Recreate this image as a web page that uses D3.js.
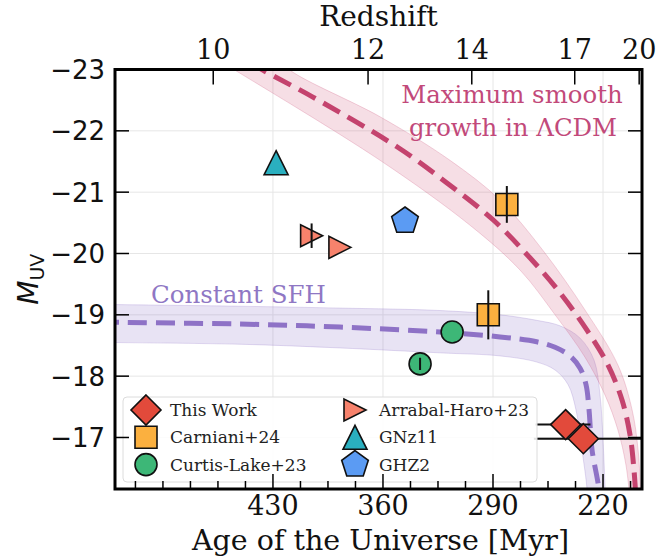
<!DOCTYPE html>
<html>
<head>
<meta charset="utf-8">
<script src="https://cdn.jsdelivr.net/npm/d3@7"></script>
<style>
  html, body { margin: 0; padding: 0; background: #fff; }
  svg { display: block; }
</style>
</head>
<body>
<div id="chart"></div>
<script>
// ---- data ----
const ageTicks = [430, 360, 290, 220];
const yTicks = [-23, -22, -21, -20, -19, -18, -17];
const zTicks = [10, 12, 14, 17, 20];
const zTickAge = [468, 369.5, 303.5, 238, 197]; // age [Myr] at each redshift tick

// maximum smooth growth in LCDM: mean curve + band edges, [age, M_UV]
const lcdmMean = [[444.6, -23.12], [436.4, -22.99], [404.6, -22.55], [351.1, -21.74], [319.3, -21.15],
  [290.0, -20.55], [266.5, -19.93], [247.4, -19.36], [230.2, -18.75], [216.8, -18.18], [207.9, -17.61],
  [202.8, -17.04], [200.3, -16.47], [199.0, -15.98]];
const lcdmUpper = [[428.7, -23.24], [419.2, -22.99], [361.9, -22.23], [317.4, -21.52], [285.5, -20.87],
  [258.2, -20.05], [231.5, -19.08], [210.5, -18.18], [201.5, -17.45], [197.7, -16.8], [195.8, -15.98]];
const lcdmLower = [[462.5, -23.12], [454.2, -22.99], [361.9, -21.52], [304.6, -20.46], [272.8, -19.73],
  [250.5, -19.0], [231.5, -18.31], [218.7, -17.69], [210.5, -17.12], [205.4, -16.55], [202.8, -15.98]];

// constant SFH: mean curve + band edges
const sfhMean = [[540, -18.89], [530.5, -18.88], [451, -18.85], [387.4, -18.8], [323.7, -18.72],
  [285.5, -18.64], [262.2, -18.56], [250.5, -18.47], [241.0, -18.33], [234.6, -18.13], [230.8, -17.86],
  [228.9, -17.45], [227.0, -16.8], [223.2, -16.26], [221.9, -15.98]];
const sfhUpper = [[540, -19.17], [451, -19.14], [387.4, -19.11], [323.7, -19.07], [285.5, -19.0],
  [262.2, -18.91], [247.3, -18.82], [234.6, -18.62], [225.7, -18.26], [221.9, -17.69], [220.0, -16.96],
  [218.7, -16.16], [218.5, -15.9]];
const sfhLower = [[540, -18.55], [451, -18.52], [387.4, -18.46], [323.7, -18.38], [285.5, -18.33],
  [262.2, -18.23], [250.5, -18.1], [242.2, -17.86], [237.2, -17.45], [233.4, -16.8], [230.2, -16.16],
  [230, -15.9]];

// observed galaxies
const thisWorkAge = [243.8, 232.5];
const thisWorkM = [-17.21, -16.98];
const thisWorkAgeLo = [263, 264];
const thisWorkAgeHi = [228, 180];

const carnianiAge = [281.2, 293];
const carnianiM = [-20.8, -19.0];
const carnianiErr = [0.3, 0.4];

const curtisAge = [316, 336.4];
const curtisM = [-18.72, -18.2];
const curtisErr = [0, 0.1];

const arrabalAge = [405.4, 387.4];
const arrabalM = [-20.29, -20.1];
const arrabalErr = [0.2, 0];

const gnz11Age = [428];
const gnz11M = [-21.48];
const ghz2Age = [346];
const ghz2M = [-20.53];

const legendLabels = ["This Work", "Carniani+24", "Curtis-Lake+23", "Arrabal-Haro+23", "GNz11", "GHZ2"];

// ---- layout ----
const W = 660, H = 558;
const pLeft = 115, pRight = 642, pTop = 69.5, pBottom = 489;

const x = d3.scaleLinear().domain([530.5, 195.2]).range([pLeft, pRight]);
const y = d3.scaleLinear().domain([-23, -16.16]).range([pTop, pBottom]);

const serif = "DejaVu Serif";
const sans = "DejaVu Sans";

const svg = d3.select("#chart").append("svg").attr("width", W).attr("height", H);

svg.append("clipPath").attr("id", "clip")
  .append("rect").attr("x", pLeft).attr("y", pTop).attr("width", pRight - pLeft).attr("height", pBottom - pTop);

// grid
const grid = svg.append("g").attr("stroke", "#e6e6e6").attr("stroke-width", 1);
grid.selectAll("line.gx").data(ageTicks).join("line").attr("class", "gx")
  .attr("x1", d => x(d)).attr("x2", d => x(d)).attr("y1", pTop).attr("y2", pBottom);
grid.selectAll("line.gy").data(yTicks).join("line").attr("class", "gy")
  .attr("y1", d => y(d)).attr("y2", d => y(d)).attr("x1", pLeft).attr("x2", pRight);

// curves
const plot = svg.append("g").attr("clip-path", "url(#clip)");
const line = d3.line().x(d => x(d[0])).y(d => y(d[1])).curve(d3.curveCatmullRom);

function band(upper, lower) {
  return line(upper) + line(lower.slice().reverse()).replace(/^M/, "L") + "Z";
}

plot.append("path").attr("d", band(sfhUpper, sfhLower))
  .attr("fill", "#8e72c6").attr("fill-opacity", 0.2)
  .attr("stroke", "#8e72c6").attr("stroke-opacity", 0.25).attr("stroke-width", 1);
plot.append("path").attr("d", band(lcdmUpper, lcdmLower))
  .attr("fill", "#d0587e").attr("fill-opacity", 0.2)
  .attr("stroke", "#d0587e").attr("stroke-opacity", 0.25).attr("stroke-width", 1);

plot.append("path").attr("d", line(sfhMean)).attr("fill", "none")
  .attr("stroke", "#8e72c6").attr("stroke-width", 5).attr("stroke-dasharray", "19,9");
plot.append("path").attr("d", line(lcdmMean)).attr("fill", "none")
  .attr("stroke", "#c4436e").attr("stroke-width", 5).attr("stroke-dasharray", "19,9");

// curve annotations
svg.append("text").attr("x", 512).attr("y", 103).attr("text-anchor", "middle")
  .attr("font-family", serif).attr("font-size", 24.4).attr("fill", "#c2497a").text("Maximum smooth");
svg.append("text").attr("x", 513).attr("y", 136).attr("text-anchor", "middle")
  .attr("font-family", serif).attr("font-size", 24.4).attr("fill", "#c2497a").text("growth in \u039BCDM");
svg.append("text").attr("x", 151).attr("y", 303)
  .attr("font-family", serif).attr("font-size", 24.5).attr("fill", "#8f77c4").text("Constant SFH");

// marker shapes (r = half size in px)
const shapes = {
  diamond: { draw(c, r) { c.moveTo(0, -r); c.lineTo(r, 0); c.lineTo(0, r); c.lineTo(-r, 0); c.closePath(); } },
  square: { draw(c, r) { c.rect(-r, -r, 2 * r, 2 * r); } },
  circle: { draw(c, r) { c.moveTo(r, 0); c.arc(0, 0, r, 0, 2 * Math.PI); } },
  triRight: { draw(c, r) { c.moveTo(r, 0); c.lineTo(-r, -r); c.lineTo(-r, r); c.closePath(); } },
  triUp: { draw(c, r) { c.moveTo(0, -r); c.lineTo(r, r); c.lineTo(-r, r); c.closePath(); } },
  pentagon: { draw(c, r) {
    for (let i = 0; i < 5; i++) {
      const a = -Math.PI / 2 + i * 2 * Math.PI / 5;
      i ? c.lineTo(r * Math.cos(a), r * Math.sin(a)) : c.moveTo(r * Math.cos(a), r * Math.sin(a));
    }
    c.closePath();
  } }
};

const styles = [
  { shape: "diamond", r: 15, fill: "#e24a3b" },
  { shape: "square", r: 11, fill: "#fbb03f" },
  { shape: "circle", r: 11, fill: "#3db777" },
  { shape: "triRight", r: 11, fill: "#f7826c" },
  { shape: "triUp", r: 12, fill: "#2aafbf" },
  { shape: "pentagon", r: 14, fill: "#5b9bf3" }
];

const pts = svg.append("g");

function drawMarkers(ages, mags, st) {
  pts.append("g").selectAll("path").data(ages.map((a, i) => [a, mags[i]])).join("path")
    .attr("transform", d => `translate(${x(d[0])},${y(d[1])})`)
    .attr("d", d3.symbol(shapes[st.shape], st.r)())
    .attr("fill", st.fill).attr("stroke", "#111").attr("stroke-width", 1.6);
}

function drawYErr(ages, mags, errs) {
  pts.append("g").selectAll("line").data(ages.map((a, i) => [a, mags[i], errs[i]]).filter(d => d[2] > 0)).join("line")
    .attr("x1", d => x(d[0])).attr("x2", d => x(d[0]))
    .attr("y1", d => y(d[1] - d[2])).attr("y2", d => y(d[1] + d[2]))
    .attr("stroke", "#111").attr("stroke-width", 2);
}

// This Work age error bars (clipped)
plot.append("g").selectAll("line").data(thisWorkAge.map((a, i) => i)).join("line")
  .attr("x1", i => x(thisWorkAgeLo[i])).attr("x2", i => x(thisWorkAgeHi[i]))
  .attr("y1", i => y(thisWorkM[i])).attr("y2", i => y(thisWorkM[i]))
  .attr("stroke", "#111").attr("stroke-width", 2);

drawMarkers(gnz11Age, gnz11M, styles[4]);
drawMarkers(arrabalAge, arrabalM, styles[3]);
drawYErr(arrabalAge, arrabalM, arrabalErr);
drawMarkers(ghz2Age, ghz2M, styles[5]);
drawMarkers(carnianiAge, carnianiM, styles[1]);
drawYErr(carnianiAge, carnianiM, carnianiErr);
drawMarkers(curtisAge, curtisM, styles[2]);
drawYErr(curtisAge, curtisM, curtisErr);
drawMarkers(thisWorkAge, thisWorkM, styles[0]);

// legend
const lg = svg.append("g");
lg.append("rect").attr("x", 123).attr("y", 397).attr("width", 414).attr("height", 85).attr("rx", 4)
  .attr("fill", "#fff").attr("fill-opacity", 0.88).attr("stroke", "#dcdcdc").attr("stroke-width", 1);
[0, 1, 2, 3, 4, 5].forEach((k, i) => {
  const col = Math.floor(i / 3), row = i % 3;
  const mx = 146 + col * 209, my = 410 + row * 27.3;
  const st = styles[k];
  lg.append("path").attr("transform", `translate(${mx},${my})`)
    .attr("d", d3.symbol(shapes[st.shape], st.r)())
    .attr("fill", st.fill).attr("stroke", "#111").attr("stroke-width", 1.6);
  lg.append("text").attr("x", mx + 24).attr("y", my + 6)
    .attr("font-family", serif).attr("font-size", 17).attr("fill", "#222").text(legendLabels[k]);
});

// axes frame and ticks
const ax = svg.append("g").attr("stroke", "#000");
const minorAges = d3.range(517.5, 195, -17.5).filter(a => !ageTicks.includes(a));
ax.selectAll("line.mx").data(minorAges).join("line")
  .attr("x1", d => x(d)).attr("x2", d => x(d)).attr("y1", pBottom).attr("y2", pBottom - 8).attr("stroke-width", 1.5);
ax.selectAll("line.Mx").data(ageTicks).join("line")
  .attr("x1", d => x(d)).attr("x2", d => x(d)).attr("y1", pBottom).attr("y2", pBottom - 15).attr("stroke-width", 1.5);
ax.selectAll("line.tz").data(zTickAge).join("line")
  .attr("x1", d => x(d)).attr("x2", d => x(d)).attr("y1", pTop).attr("y2", pTop + 15).attr("stroke-width", 1.5);
ax.selectAll("line.yl").data(yTicks.slice(1)).join("line")
  .attr("x1", pLeft).attr("x2", pLeft + 14).attr("y1", d => y(d)).attr("y2", d => y(d)).attr("stroke-width", 1.5);
ax.selectAll("line.yr").data(yTicks.slice(1)).join("line")
  .attr("x1", pRight).attr("x2", pRight - 14).attr("y1", d => y(d)).attr("y2", d => y(d)).attr("stroke-width", 1.5);
svg.append("rect").attr("x", pLeft).attr("y", pTop).attr("width", pRight - pLeft).attr("height", pBottom - pTop)
  .attr("fill", "none").attr("stroke", "#000").attr("stroke-width", 3);

// tick labels
const tl = svg.append("g").attr("fill", "#111");
tl.selectAll("text.bx").data(ageTicks).join("text")
  .attr("x", d => x(d)).attr("y", pBottom + 26).attr("text-anchor", "middle")
  .attr("font-family", serif).attr("font-size", 27).text(d => d);
tl.selectAll("text.tz").data(zTicks).join("text")
  .attr("x", (d, i) => x(zTickAge[i])).attr("y", pTop - 11).attr("text-anchor", "middle")
  .attr("font-family", serif).attr("font-size", 27).text(d => d);
tl.selectAll("text.yl").data(yTicks).join("text")
  .attr("x", pLeft - 10).attr("y", d => y(d) + 9.5).attr("text-anchor", "end")
  .attr("font-family", sans).attr("font-size", 26).text(d => "\u2212" + Math.abs(d));

// axis titles
svg.append("text").attr("x", (pLeft + pRight) / 2).attr("y", 26).attr("text-anchor", "middle")
  .attr("font-family", serif).attr("font-size", 28).attr("fill", "#111").text("Redshift");
svg.append("text").attr("x", (pLeft + pRight) / 2 + 2).attr("y", 550).attr("text-anchor", "middle")
  .attr("font-family", serif).attr("font-size", 28.5).attr("fill", "#111").text("Age of the Universe [Myr]");
const yl = svg.append("text").attr("transform", `translate(38,${(pTop + pBottom) / 2}) rotate(-90)`)
  .attr("text-anchor", "middle").attr("font-family", sans).attr("font-size", 28).attr("fill", "#111");
yl.append("tspan").attr("font-style", "italic").text("M");
yl.append("tspan").attr("font-size", 19).attr("dy", 6).text("UV");
</script>
</body>
</html>
